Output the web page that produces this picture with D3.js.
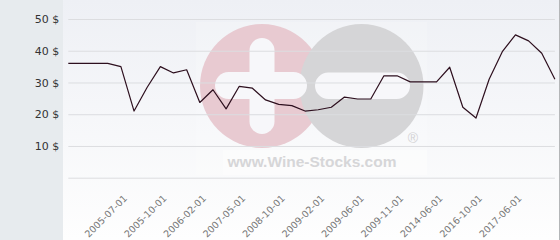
<!DOCTYPE html>
<html>
<head>
<meta charset="utf-8">
<script src="https://cdn.jsdelivr.net/npm/d3@7"></script>
<style>
  html, body { margin: 0; padding: 0; background: #fff; }
  svg { display: block; }
</style>
</head>
<body>
<svg id="chart" width="560" height="240"></svg>
<script>
const categories = [
  "2005-03-01","2005-04-01","2005-05-01","2005-06-01","2005-07-01","2005-08-01",
  "2005-09-01","2005-10-01","2005-11-01","2005-12-01","2006-02-01","2006-06-01",
  "2006-11-01","2007-05-01","2007-09-01","2008-03-01","2008-10-01","2008-11-01",
  "2008-12-01","2009-02-01","2009-03-01","2009-04-01","2009-06-01","2009-08-01",
  "2009-10-01","2009-11-01","2011-06-01","2013-01-01","2014-06-01","2015-06-01",
  "2016-03-01","2016-10-01","2017-01-01","2017-03-01","2017-06-01","2017-10-01",
  "2018-03-01","2018-09-01"
];
// label shown every 3rd category
const labelIndices = [4,7,10,13,16,19,22,25,28,31,34];
const prices = [
  36, 36, 36, 36, 35, 21, 28.5, 35, 33, 34, 23.7, 27.7,
  21.7, 28.8, 28.2, 24.5, 23.1, 22.7, 21, 21.4, 22.2, 25.4, 24.8, 24.8,
  32.1, 32.1, 30.2, 30.2, 30.2, 34.8, 22.2, 18.8, 31, 39.7, 45, 43.1,
  39.2, 31
];
const yTicks = [0, 10, 20, 30, 40, 50];

const svg = d3.select("#chart");
const W = 560, H = 240;
const plot = { left: 68.3, right: 554.9, top: 19, bottom: 177.7 };

// backgrounds
svg.append("rect").attr("x", 0).attr("y", 0).attr("width", W).attr("height", H).attr("fill", "#e7ebee");
const defs = svg.append("defs");
const grad = defs.append("linearGradient").attr("id", "bg").attr("x1", 0).attr("y1", 0).attr("x2", 0).attr("y2", 1);
grad.append("stop").attr("offset", "0%").attr("stop-color", "#eef0f5");
grad.append("stop").attr("offset", "100%").attr("stop-color", "#fefefe");
svg.append("rect").attr("x", 63).attr("y", 0).attr("width", 496).attr("height", H).attr("fill", "url(#bg)");
svg.append("line").attr("x1", 559.5).attr("x2", 559.5).attr("y1", 0).attr("y2", H)
  .attr("stroke", "#b4b6b8").attr("stroke-width", 1);

// watermark
const wm = svg.append("g");
wm.append("rect").attr("x", 196).attr("y", 22).attr("width", 231).attr("height", 153)
  .attr("fill", "#ffffff").attr("opacity", 0.18);
wm.append("circle").attr("cx", 262).attr("cy", 86).attr("r", 62).attr("fill", "#e8cad1");
wm.append("rect").attr("x", 249.5).attr("y", 38).attr("width", 25).attr("height", 96).attr("rx", 12.5)
  .attr("fill", "#f7f7fa");
wm.append("circle").attr("cx", 361.5).attr("cy", 86).attr("r", 62).attr("fill", "#d5d5d7");
wm.append("rect").attr("x", 215).attr("y", 72).attr("width", 92).attr("height", 27).attr("rx", 13.5)
  .attr("fill", "#f7f7fa");
wm.append("rect").attr("x", 315).attr("y", 72.5).attr("width", 95).attr("height", 26.5).attr("rx", 13.25)
  .attr("fill", "#f7f7fa");
wm.append("text").attr("x", 413).attr("y", 143).attr("text-anchor", "middle")
  .attr("font-family", "Liberation Sans, Arial, sans-serif").attr("font-size", 14)
  .attr("fill", "#d2d2d4").text("®");
wm.append("rect").attr("x", 223).attr("y", 150).attr("width", 204).attr("height", 25)
  .attr("fill", "#ffffff").attr("opacity", 0.35);
wm.append("text").attr("x", 312).attr("y", 166.5).attr("text-anchor", "middle")
  .attr("font-family", "Liberation Sans, Arial, sans-serif").attr("font-size", 15.5).attr("font-weight", "bold")
  .attr("fill", "#d6d6d8").text("www.Wine-Stocks.com");

// scales
const x = d3.scalePoint().domain(categories).range([plot.left, plot.right]);
const y = d3.scaleLinear().domain([0, 50]).range([plot.bottom, plot.top]);

// grid
const yAxis = d3.axisLeft(y).tickValues(yTicks).tickSize(-(plot.right - plot.left)).tickFormat(d => d === 0 ? "" : d + " $");
const gy = svg.append("g").attr("transform", `translate(${plot.left},0)`).call(yAxis);
gy.select(".domain").remove();
gy.selectAll(".tick line").attr("stroke", "#dcdde0").attr("stroke-width", 1);
gy.selectAll(".tick text").attr("x", -9).attr("fill", "#333")
  .attr("font-family", "DejaVu Sans, sans-serif").attr("font-size", 11);

// x axis labels
const xAxis = d3.axisBottom(x).tickValues(labelIndices.map(i => categories[i])).tickSize(0);
const gx = svg.append("g").attr("transform", `translate(0,${plot.bottom})`).call(xAxis);
gx.select(".domain").remove();
gx.selectAll(".tick text")
  .attr("text-anchor", "end")
  .attr("fill", "#777")
  .attr("font-family", "DejaVu Sans, sans-serif").attr("font-size", 9.5)
  .attr("x", 0).attr("y", 0).attr("dy", "0.35em")
  .attr("transform", "translate(4,19) rotate(-45)");

// line
const line = d3.line().x((d, i) => x(categories[i])).y(d => y(d));
svg.append("path").datum(prices).attr("d", line)
  .attr("fill", "none").attr("stroke", "#2d0f1e").attr("stroke-width", 1.2)
  .attr("stroke-linejoin", "round");
</script>
</body>
</html>
